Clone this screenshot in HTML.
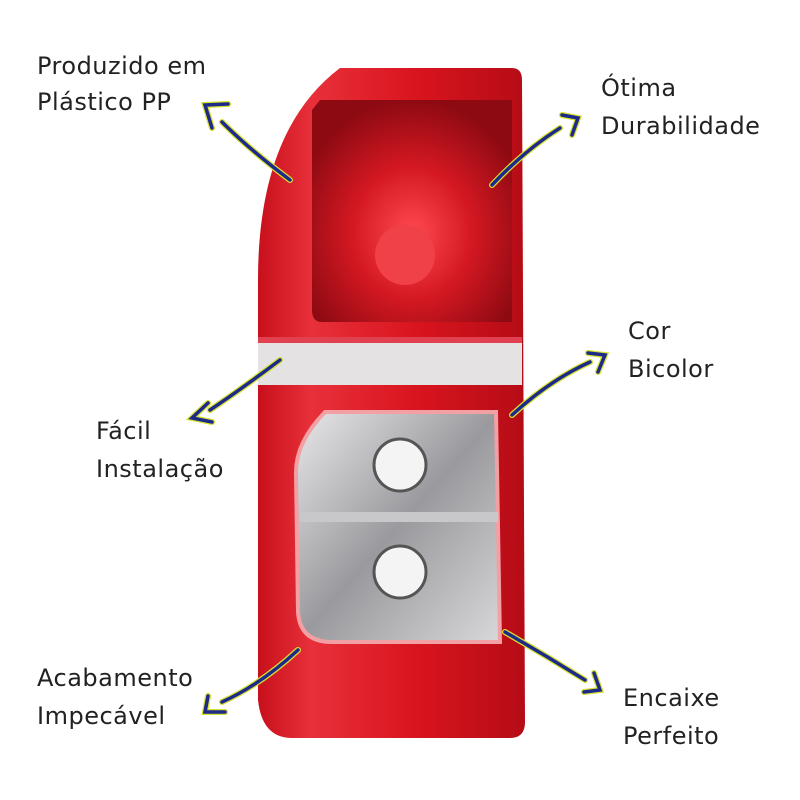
<!DOCTYPE html>
<html><head><style>
html,body{margin:0;padding:0;background:#fff;}
svg{display:block}
text{font-family:"DejaVu Sans","Liberation Sans",sans-serif;font-size:24px;letter-spacing:0.5px;fill:#222;}
</style></head><body>
<svg width="800" height="800" viewBox="0 0 800 800">
<defs>
<linearGradient id="rg" x1="0" y1="0" x2="1" y2="0">
<stop offset="0" stop-color="#c8101c"/><stop offset="0.2" stop-color="#e8303a"/><stop offset="0.6" stop-color="#d8141e"/><stop offset="1" stop-color="#b50c16"/>
</linearGradient>
<radialGradient id="cg" cx="0.5" cy="0.6" r="0.6">
<stop offset="0" stop-color="#ff4a50"/><stop offset="0.5" stop-color="#d41822"/><stop offset="1" stop-color="#8e0a12"/>
</radialGradient>
<linearGradient id="lg" x1="0" y1="0" x2="1" y2="1">
<stop offset="0" stop-color="#e8e8ea"/><stop offset="0.5" stop-color="#9a9a9e"/><stop offset="1" stop-color="#d8d8da"/>
</linearGradient>
</defs>
<path d="M340 68 L512 68 Q522 68 522 80 L525 722 Q525 738 510 738 L292 738 Q262 738 258 700 L258 280 Q258 130 340 68 Z" fill="url(#rg)"/>
<path d="M320 100 L512 100 L512 322 L322 322 Q312 322 312 310 L312 110 Z" fill="url(#cg)"/>
<circle cx="405" cy="255" r="30" fill="#f04048"/>
<rect x="258" y="343" width="264" height="42" fill="#e4e2e2"/>
<rect x="258" y="337" width="264" height="6" fill="#e04050"/>
<path d="M325 412 L496 412 L500 642 L332 642 Q300 642 298 612 L296 472 Q296 442 325 412 Z" fill="url(#lg)" stroke="#f2a0a4" stroke-width="4"/>
<rect x="300" y="512" width="198" height="10" fill="#c8c8ca"/>
<circle cx="400" cy="465" r="26" fill="#f4f4f4" stroke="#555" stroke-width="3"/>
<circle cx="400" cy="572" r="26" fill="#f4f4f4" stroke="#555" stroke-width="3"/>
<g stroke="#d8e030" stroke-width="6" stroke-linecap="round" fill="none">
<path d="M290 180 Q250 150 222 122"/><path d="M492 185 Q525 150 560 128"/><path d="M512 415 Q550 380 590 362"/>
<path d="M280 360 Q240 390 210 410"/><path d="M298 650 Q260 685 222 702"/><path d="M505 632 Q545 655 585 680"/>
<path d="M212 128 L205 105 L228 104"/><path d="M562 115 L578 118 L572 135"/><path d="M588 353 L605 355 L598 372"/>
<path d="M208 403 L192 418 L212 422"/><path d="M208 696 L205 712 L225 712"/><path d="M584 692 L600 690 L594 673"/>
</g>
<g stroke="#1c2a8a" stroke-width="3.5" stroke-linecap="round" fill="none">
<path d="M290 180 Q250 150 222 122"/><path d="M492 185 Q525 150 560 128"/><path d="M512 415 Q550 380 590 362"/>
<path d="M280 360 Q240 390 210 410"/><path d="M298 650 Q260 685 222 702"/><path d="M505 632 Q545 655 585 680"/>
<path d="M212 128 L205 105 L228 104"/><path d="M562 115 L578 118 L572 135"/><path d="M588 353 L605 355 L598 372"/>
<path d="M208 403 L192 418 L212 422"/><path d="M208 696 L205 712 L225 712"/><path d="M584 692 L600 690 L594 673"/>
</g>
<text x="37" y="74">Produzido em</text>
<text x="37" y="110">Plástico PP</text>
<text x="601" y="96">Ótima</text>
<text x="601" y="134">Durabilidade</text>
<text x="628" y="339">Cor</text>
<text x="628" y="377">Bicolor</text>
<text x="96" y="439">Fácil</text>
<text x="96" y="477">Instalação</text>
<text x="37" y="686">Acabamento</text>
<text x="37" y="724">Impecável</text>
<text x="623" y="706">Encaixe</text>
<text x="623" y="744">Perfeito</text>
</svg>
</body></html>
